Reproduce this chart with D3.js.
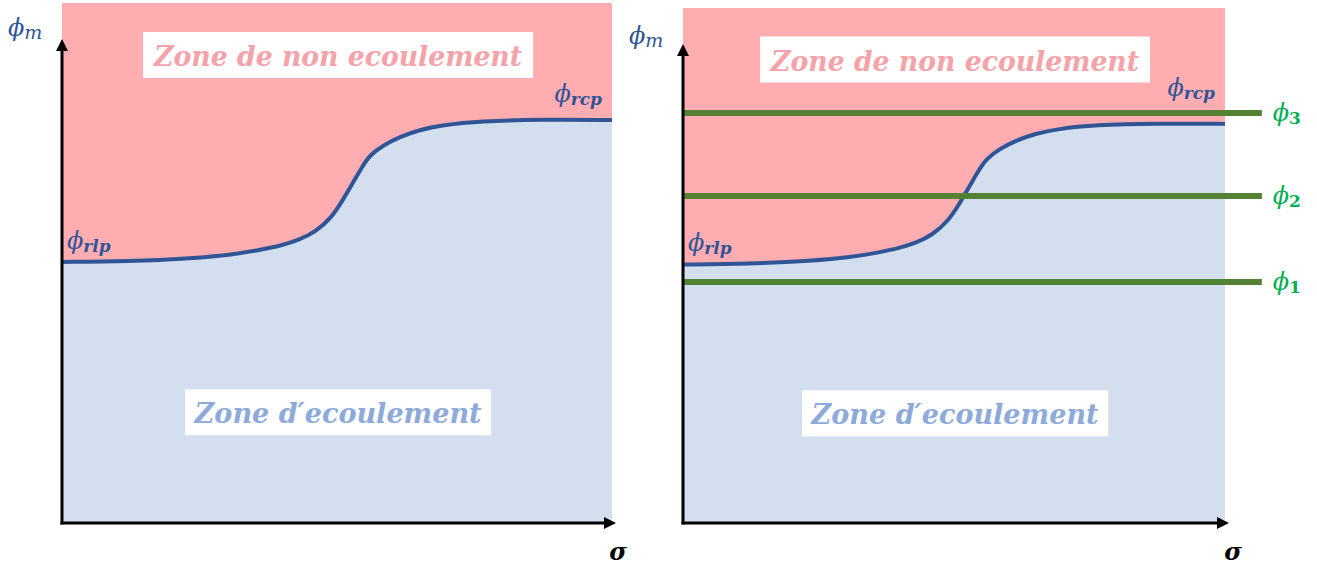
<!DOCTYPE html>
<html>
<head>
<meta charset="utf-8">
<script src="https://cdn.jsdelivr.net/npm/d3@7"></script>
<style>
  body { margin: 0; background: #fff; }
  svg { display: block; }
  .lbl { font-family: "DejaVu Serif", serif; }
</style>
</head>
<body>
<div class="chart"></div>
<script>
// sigma (abscissa, arbitrary units) and the phi_m boundary
const sigma = [0, 12, 24, 31, 36, 40, 43, 46, 49, 51, 53, 54.5, 56, 58.5, 61.5, 65, 69, 76, 87, 100];
const phiBoundary = [50.2, 50.3, 50.9, 51.6, 52.5, 53.4, 54.4, 55.9, 58.7, 62.0, 65.6, 68.4, 70.8, 72.7, 74.3, 75.6, 76.5, 77.3, 77.6, 77.5];
// horizontal levels phi_1, phi_2, phi_3 (right panel)
const phiLevels = [46.8, 63.5, 79.6];
const levelNames = ["1", "2", "3"];
const zoneNames = ["Zone de non ecoulement", "Zone d\u2032ecoulement"];

const W = 1317, H = 566;
const pink = "#ffadb1", blue = "#d3deef", curveColor = "#2f5597";

const svg = d3.select(".chart").append("svg")
    .attr("width", W)
    .attr("height", H);

const defs = svg.append("defs");
defs.append("marker")
    .attr("id", "arrow")
    .attr("viewBox", "0 0 12 12")
    .attr("refX", 1).attr("refY", 6)
    .attr("markerWidth", 12).attr("markerHeight", 12)
    .attr("markerUnits", "userSpaceOnUse")
    .attr("orient", "auto")
    .append("path")
    .attr("d", "M0,0 L12,6 L0,12 Z")
    .attr("fill", "#000");

const data = sigma.map((s, i) => ({s: s, p: phiBoundary[i]}));

const panels = [
    {x0: 62,  x1: 612,  yTop: 3, yAxisTip: 38, mX: 8,   mY: 36, sigmaX: 618,  rcpDy: -18, levels: false},
    {x0: 683, x1: 1225, yTop: 8, yAxisTip: 43, mX: 629, mY: 44, sigmaX: 1233, rcpDy: -28, levels: true}
];

panels.forEach(pn => {
    const g = svg.append("g");
    const xScale = d3.scaleLinear().domain([0, 100]).range([pn.x0, pn.x1]);
    const yScale = d3.scaleLinear().domain([0, 100]).range([523, pn.yTop]);

    // flow / no-flow regions
    const upper = d3.area()
        .x(d => xScale(d.s))
        .y0(yScale(100))
        .y1(d => yScale(d.p))
        .curve(d3.curveBasis);
    const lower = d3.area()
        .x(d => xScale(d.s))
        .y0(yScale(0))
        .y1(d => yScale(d.p))
        .curve(d3.curveBasis);

    g.append("path").datum(data).attr("d", upper).attr("fill", pink);
    g.append("path").datum(data).attr("d", lower).attr("fill", blue);

    // zone labels
    const zones = [
        {text: zoneNames[0], cy: 90, w: 390, len: 368, color: "#f6a2a9"},
        {text: zoneNames[1], cy: 21.3, w: 306, len: 287, color: "#8eaadb"}
    ];
    zones.forEach(z => {
        const cx = xScale(50.2), cy = yScale(z.cy);
        g.append("rect")
            .attr("x", cx - z.w / 2).attr("y", cy - 23)
            .attr("width", z.w).attr("height", 46)
            .attr("fill", "#fff");
        g.append("text")
            .attr("class", "lbl")
            .attr("x", cx).attr("y", cy + 11)
            .attr("text-anchor", "middle")
            .attr("font-size", 27)
            .attr("font-weight", "bold")
            .attr("font-style", "italic")
            .attr("fill", z.color)
            .attr("textLength", z.len)
            .attr("lengthAdjust", "spacingAndGlyphs")
            .text(z.text);
    });

    // boundary curve
    g.append("path").datum(data)
        .attr("d", d3.line().x(d => xScale(d.s)).y(d => yScale(d.p)).curve(d3.curveBasis))
        .attr("fill", "none")
        .attr("stroke", curveColor)
        .attr("stroke-width", 4);

    // horizontal levels
    if (pn.levels) {
        phiLevels.forEach((lv, i) => {
            g.append("line")
                .attr("x1", xScale(0)).attr("x2", xScale(106.8))
                .attr("y1", yScale(lv)).attr("y2", yScale(lv))
                .attr("stroke", "#548235")
                .attr("stroke-width", 6);
            const t = g.append("text")
                .attr("class", "lbl")
                .attr("x", xScale(108.8)).attr("y", yScale(lv) + 8)
                .attr("fill", "#00b050");
            t.append("tspan").attr("font-size", 24).attr("font-style", "italic").text("\u03d5");
            t.append("tspan").attr("font-size", 17).attr("font-weight", "bold").attr("dy", 3).text(levelNames[i]);
        });
    }

    // axes
    g.append("line")
        .attr("x1", xScale(0)).attr("y1", yScale(0) + 1.5)
        .attr("x2", xScale(0)).attr("y2", pn.yAxisTip + 12)
        .attr("stroke", "#000").attr("stroke-width", 3)
        .attr("marker-end", "url(#arrow)");
    g.append("line")
        .attr("x1", xScale(0) - 1.5).attr("y1", yScale(0))
        .attr("x2", xScale(100) - 7).attr("y2", yScale(0))
        .attr("stroke", "#000").attr("stroke-width", 3)
        .attr("marker-end", "url(#arrow)");

    // phi_m
    const tm = g.append("text").attr("class", "lbl")
        .attr("x", pn.mX).attr("y", pn.mY).attr("fill", curveColor);
    tm.append("tspan").attr("font-size", 24).attr("font-style", "italic").text("\u03d5");
    tm.append("tspan").attr("font-size", 19).attr("font-style", "italic").attr("dy", 3).text("m");

    // sigma
    g.append("text").attr("class", "lbl")
        .attr("x", pn.sigmaX).attr("y", 560)
        .attr("text-anchor", "middle")
        .attr("font-size", 24).attr("font-weight", "bold").attr("font-style", "italic")
        .text("\u03c3");

    // phi_rlp and phi_rcp
    const tl = g.append("text").attr("class", "lbl")
        .attr("x", xScale(0) + 5).attr("y", yScale(phiBoundary[0]) - 13)
        .attr("fill", curveColor);
    tl.append("tspan").attr("font-size", 24).attr("font-style", "italic").text("\u03d5");
    tl.append("tspan").attr("font-size", 17).attr("font-weight", "bold").attr("font-style", "italic").attr("dy", 3).text("rlp");

    const tr = g.append("text").attr("class", "lbl")
        .attr("x", xScale(100) - 10).attr("y", yScale(phiBoundary[phiBoundary.length - 1]) + pn.rcpDy)
        .attr("text-anchor", "end")
        .attr("fill", curveColor);
    tr.append("tspan").attr("font-size", 24).attr("font-style", "italic").text("\u03d5");
    tr.append("tspan").attr("font-size", 17).attr("font-weight", "bold").attr("font-style", "italic").attr("dy", 3).text("rcp");
});
</script>
</body>
</html>
